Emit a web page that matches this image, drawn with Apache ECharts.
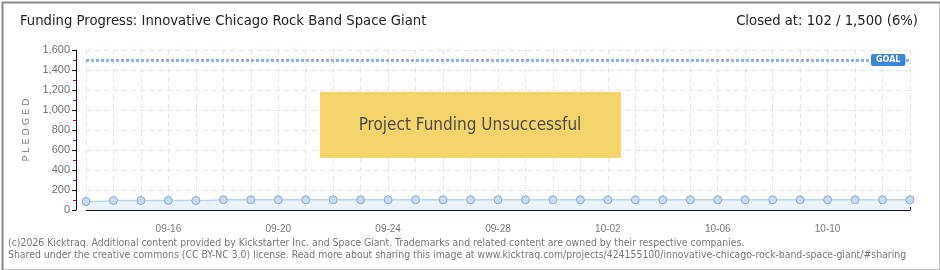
<!DOCTYPE html>
<html>
<head>
<meta charset="utf-8">
<script src="https://cdn.jsdelivr.net/npm/echarts@6/dist/echarts.min.js"></script>
<style>
  html, body { margin: 0; padding: 0; background: #fff; }
  #main { width: 940px; height: 270px; }
</style>
</head>
<body>
<div id="main"></div>
<script>
// daily snapshots, 09-13 .. 10-13
var dates = ['09-13', '09-14', '09-15', '09-16', '09-17', '09-18', '09-19', '09-20',
    '09-21', '09-22', '09-23', '09-24', '09-25', '09-26', '09-27', '09-28',
    '09-29', '09-30', '10-01', '10-02', '10-03', '10-04', '10-05', '10-06',
    '10-07', '10-08', '10-09', '10-10', '10-11', '10-12', '10-13'];
var pledged = [85, 95, 95, 95, 95, 102, 102, 102, 102, 102, 102, 102, 102, 102, 102, 102,
    102, 102, 102, 102, 102, 102, 102, 102, 102, 102, 102, 102, 102, 102, 102];
var goal = 1500;
var yTicks = [0, 200, 400, 600, 800, 1000, 1200, 1400, 1600];

var titleText = 'Funding Progress: Innovative Chicago Rock Band Space Giant';
var closedText = 'Closed at: 102 / 1,500 (6%)';
var statusText = 'Project Funding Unsuccessful';
var footer1 = '(c)2026 Kicktraq. Additional content provided by Kickstarter Inc. and Space Giant. Trademarks and related content are owned by their respective companies.';
var footer2 = 'Shared under the creative commons (CC BY-NC 3.0) license. Read more about sharing this image at www.kicktraq.com/projects/424155100/innovative-chicago-rock-band-space-giant/#sharing';

var chart = echarts.init(document.getElementById('main'));

function fmt(v) {
    return v.toLocaleString('en-US');
}

chart.setOption({
    animation: false,
    backgroundColor: '#fff',
    grid: { left: 86, right: 30, top: 50, bottom: 60 },
    xAxis: {
        type: 'category',
        data: dates,
        boundaryGap: false,
        offset: 10,
        axisLine: { lineStyle: { color: '#111', width: 1 } },
        axisTick: { show: true, inside: true, length: 3, interval: 0, lineStyle: { color: '#111' } },
        axisLabel: {
            interval: function (i) { return i % 4 === 3; },
            color: '#777', fontFamily: 'Liberation Sans', fontSize: 10, margin: 4
        },
        splitLine: { show: true, interval: 0, lineStyle: { color: '#e4e4e4', type: [5, 4] } }
    },
    yAxis: {
        type: 'value',
        min: yTicks[0],
        max: yTicks[yTicks.length - 1],
        interval: 200,
        offset: 10,
        name: 'P L E D G E D',
        nameLocation: 'middle',
        nameGap: 38,
        nameTextStyle: { color: '#777', fontFamily: 'DejaVu Sans', fontSize: 9.5 },
        axisLine: { show: true, lineStyle: { color: '#111' } },
        axisTick: { show: true, length: 4, lineStyle: { color: '#111' } },
        minorTick: { show: true, splitNumber: 2, length: 3, lineStyle: { color: '#e00' } },
        axisLabel: { color: '#6f6f6f', fontFamily: 'Liberation Sans', fontSize: 11, margin: 6, formatter: fmt },
        splitLine: { lineStyle: { color: '#e4e4e4', type: [5, 4] } }
    },
    series: [{
        type: 'line',
        data: pledged,
        step: 'middle',
        symbol: 'circle',
        symbolSize: 8,
        lineStyle: { color: '#bcd6f0', width: 1.5 },
        itemStyle: { color: '#c4dcf6', borderColor: '#93a9c6', borderWidth: 1 },
        areaStyle: { color: '#ebf3fc', opacity: 1 },
        markLine: {
            silent: true,
            symbol: ['none', 'none'],
            data: [{ yAxis: goal }],
            lineStyle: { color: '#8fb3de', width: 3, type: [3, 2] },
            label: {
                show: true,
                position: 'end',
                distance: 0,
                offset: [-39, 0],
                formatter: 'GOAL',
                color: '#fff',
                backgroundColor: '#3b86d6',
                borderRadius: 2,
                padding: [2, 5, 2, 5],
                fontFamily: 'DejaVu Sans',
                fontSize: 8,
                fontWeight: 'bold'
            }
        }
    }],
    graphic: [
        {
            type: 'rect', left: 0, top: 0, z: 100, silent: true,
            shape: { x: 1, y: 1, width: 938, height: 268 },
            style: { fill: 'none', stroke: '#8a8a8a', lineWidth: 2 }
        },
        {
            type: 'text', left: 20, top: 14,
            style: { text: titleText, fill: '#222', font: '14.7px "DejaVu Sans Condensed"' }
        },
        {
            type: 'text', right: 22, top: 14,
            style: { text: closedText, fill: '#222', font: '14.7px "DejaVu Sans Condensed"' }
        },
        {
            type: 'rect', left: 320, top: 92, z: 50,
            shape: { width: 301, height: 66 },
            style: { fill: '#f6d46c' }
        },
        {
            type: 'text', x: 470, y: 126, z: 51,
            style: {
                text: statusText, fill: '#4c4c4c', align: 'center', verticalAlign: 'middle',
                font: '17px "DejaVu Sans Condensed"',
                textShadowColor: '#fff', textShadowOffsetX: 1, textShadowOffsetY: 1
            }
        },
        {
            type: 'text', left: 8, top: 238,
            style: { text: footer1, fill: '#777', font: '10.4px "DejaVu Sans Condensed"' }
        },
        {
            type: 'text', left: 8, top: 250,
            style: { text: footer2, fill: '#777', font: '10.4px "DejaVu Sans Condensed"' }
        }
    ]
});
</script>
</body>
</html>
